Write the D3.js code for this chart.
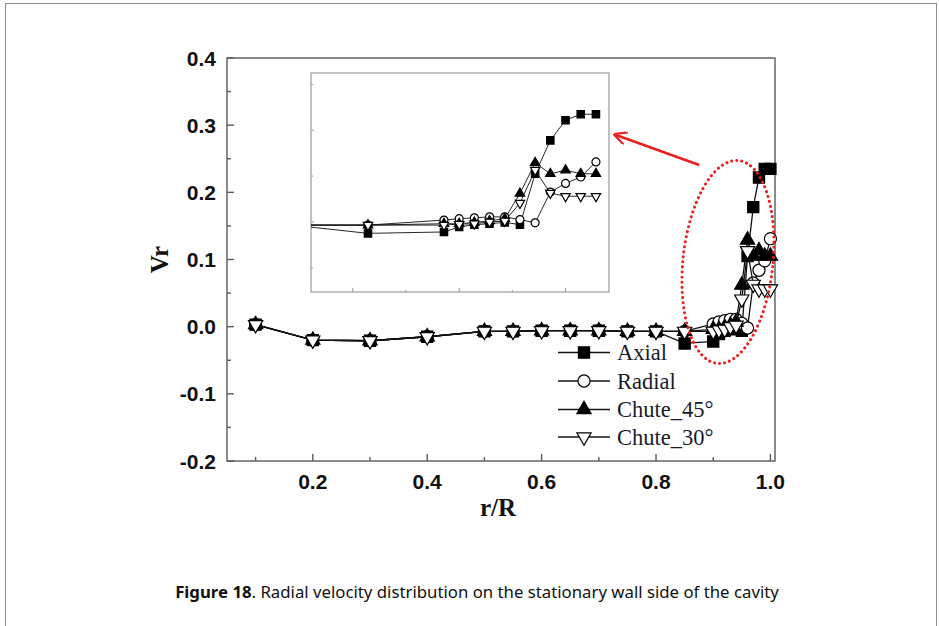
<!DOCTYPE html>
<html>
<head>
<meta charset="utf-8">
<script src="https://cdn.jsdelivr.net/npm/d3@7/dist/d3.min.js"></script>
<style>
  html, body { margin: 0; padding: 0; background: #fff; }
  svg { display: block; }
</style>
</head>
<body>
<svg id="fig" width="939" height="626"></svg>
<script>
// r/R sample positions shared by every series
const rR = [0.1, 0.2, 0.3, 0.4, 0.5, 0.55, 0.6, 0.65, 0.7, 0.75, 0.8, 0.85,
            0.9, 0.91, 0.92, 0.93, 0.94, 0.95, 0.96, 0.97, 0.98, 0.99, 1.0];

// Radial velocity Vr for each geometry
const axial   = [0.003, -0.020, -0.021, -0.015, -0.007, -0.007, -0.006, -0.006, -0.006, -0.007, -0.007, -0.025,
                 -0.022, -0.011, -0.006, -0.004, -0.001, -0.006, 0.105, 0.178, 0.222, 0.235, 0.235];
const radial  = [0.003, -0.020, -0.021, -0.015, -0.007, -0.007, -0.006, -0.006, -0.006, -0.007, -0.007, -0.007,
                 0.004, 0.007, 0.009, 0.011, 0.011, 0.005, -0.002, 0.065, 0.084, 0.098, 0.131];
const chute45 = [0.003, -0.020, -0.021, -0.015, -0.007, -0.007, -0.006, -0.006, -0.006, -0.007, -0.007, -0.007,
                 -0.004, -0.004, -0.001, 0.002, 0.007, 0.062, 0.129, 0.105, 0.113, 0.105, 0.105];
const chute30 = [0.003, -0.020, -0.021, -0.015, -0.007, -0.007, -0.006, -0.006, -0.006, -0.007, -0.007, -0.007,
                 -0.007, -0.005, -0.004, 0.000, 0.002, 0.041, 0.113, 0.063, 0.056, 0.056, 0.056];

const seriesNames = ["Axial", "Radial", "Chute_45°", "Chute_30°"];

// Axis ticks
const xMajorTicks = [0.2, 0.4, 0.6, 0.8, 1.0];
const xMinorTicks = [0.1, 0.3, 0.5, 0.7, 0.9];
const yMajorTicks = [-0.2, -0.1, 0.0, 0.1, 0.2, 0.3, 0.4];
const yMinorTicks = [-0.15, -0.05, 0.05, 0.15, 0.25, 0.35];
const insetXTicks = [0.84, 0.875, 0.91, 0.945, 0.98];
const insetYTicks = [-0.1, 0.0, 0.1, 0.2, 0.3];

const captionBold = "Figure 18";
const captionRest = ". Radial velocity distribution on the stationary wall side of the cavity";

const svg = d3.select("#fig");

// outer page frame
svg.append("rect").attr("x", 5.5).attr("y", 3.5).attr("width", 931).attr("height", 660)
  .attr("fill", "none").attr("stroke", "#8a8a8a").attr("stroke-width", 1);

const plot = { left: 227, right: 775, top: 58, bottom: 461 };
const x = d3.scaleLinear().domain([0.05, 1.008]).range([plot.left, plot.right]);
const y = d3.scaleLinear().domain([-0.2, 0.4]).range([plot.bottom, plot.top]);

const axisColor = "#5a5a5a";

// plot frame
svg.append("rect").attr("x", plot.left).attr("y", plot.top)
  .attr("width", plot.right - plot.left).attr("height", plot.bottom - plot.top)
  .attr("fill", "none").attr("stroke", axisColor).attr("stroke-width", 1.4);

// inward ticks on left and bottom
const ticks = svg.append("g").attr("stroke", axisColor).attr("stroke-width", 1.4);
xMajorTicks.forEach(v => ticks.append("line").attr("x1", x(v)).attr("x2", x(v))
  .attr("y1", plot.bottom).attr("y2", plot.bottom - 7));
xMinorTicks.forEach(v => ticks.append("line").attr("x1", x(v)).attr("x2", x(v))
  .attr("y1", plot.bottom).attr("y2", plot.bottom - 4));
yMajorTicks.forEach(v => ticks.append("line").attr("y1", y(v)).attr("y2", y(v))
  .attr("x1", plot.left).attr("x2", plot.left + 7));
yMinorTicks.forEach(v => ticks.append("line").attr("y1", y(v)).attr("y2", y(v))
  .attr("x1", plot.left).attr("x2", plot.left + 4));

// tick labels use a plain hyphen for negatives
const fmt = v => d3.format(".1f")(v).replace("\u2212", "-");
svg.append("g").selectAll("text").data(xMajorTicks).join("text")
  .attr("x", d => x(d)).attr("y", plot.bottom + 28)
  .attr("text-anchor", "middle")
  .attr("font-family", "Liberation Sans, Arial, sans-serif").attr("font-weight", "bold")
  .attr("font-size", 21).attr("fill", "#111").text(fmt);
svg.append("g").selectAll("text").data(yMajorTicks).join("text")
  .attr("x", plot.left - 11).attr("y", d => y(d) + 7.5)
  .attr("text-anchor", "end")
  .attr("font-family", "Liberation Sans, Arial, sans-serif").attr("font-weight", "bold")
  .attr("font-size", 21).attr("fill", "#111").text(fmt);

// axis titles
svg.append("text").attr("x", (plot.left + plot.right) / 2 - 3).attr("y", 516)
  .attr("text-anchor", "middle").attr("font-family", "Liberation Serif, Times New Roman, serif")
  .attr("font-weight", "bold").attr("font-size", 25).attr("fill", "#111").text("r/R");
svg.append("text").attr("transform", `translate(168, ${y(0.1)}) rotate(-90)`)
  .attr("text-anchor", "middle").attr("font-family", "Liberation Serif, Times New Roman, serif")
  .attr("font-weight", "bold").attr("font-size", 25).attr("fill", "#111").text("Vr");

// marker shapes
function markerPath(kind, scale) {
  const s = scale;
  if (kind === 0) return d3.symbol(d3.symbolSquare, 125 * s * s)();
  if (kind === 1) return d3.symbol(d3.symbolCircle, 115 * s * s)();
  return d3.symbol(d3.symbolTriangle, 88 * s * s)();
}
const fills = ["#000", "#fff", "#000", "#fff"];
const allSeries = [axial, radial, chute45, chute30];

function drawSeries(g, xs, ys, markerScale, lineWidth) {
  allSeries.forEach((vals, k) => {
    const pts = rR.map((r, i) => [r, vals[i]]);
    g.append("path").datum(pts)
      .attr("d", d3.line().x(d => xs(d[0])).y(d => ys(d[1])))
      .attr("fill", "none").attr("stroke", "#111").attr("stroke-width", lineWidth);
    g.append("g").selectAll("path").data(pts).join("path")
      .attr("d", markerPath(k, markerScale))
      .attr("transform", d => `translate(${xs(d[0])},${ys(d[1])})` + (k === 3 ? " rotate(180)" : ""))
      .attr("fill", fills[k]).attr("stroke", "#000").attr("stroke-width", 1.2);
  });
}

drawSeries(svg.append("g"), x, y, 1, 1.3);

// legend
const legend = svg.append("g");
const legendRows = [352.5, 381, 409.5, 437];
seriesNames.forEach((name, k) => {
  const row = legend.append("g").attr("transform", `translate(0, ${legendRows[k]})`);
  row.append("line").attr("x1", 558).attr("x2", 610).attr("y1", 0).attr("y2", 0)
    .attr("stroke", "#111").attr("stroke-width", 1.3);
  row.append("path").attr("d", markerPath(k, 1))
    .attr("transform", `translate(584,0)` + (k === 3 ? " rotate(180)" : ""))
    .attr("fill", fills[k]).attr("stroke", "#000").attr("stroke-width", 1.2);
  row.append("text").attr("x", 617).attr("y", 7.5)
    .attr("font-family", "Liberation Serif, Times New Roman, serif")
    .attr("font-size", 22.5).attr("fill", "#1a1a2a").text(name);
});

// zoomed inset of the near-wall region
const inset = { left: 311, right: 609, top: 73, bottom: 292 };
const ix = d3.scaleLinear().domain([0.8125, 1.0086]).range([inset.left, inset.right]);
const iy = d3.scaleLinear().domain([-0.153, 0.325]).range([inset.bottom, inset.top]);

svg.append("rect").attr("x", inset.left).attr("y", inset.top)
  .attr("width", inset.right - inset.left).attr("height", inset.bottom - inset.top)
  .attr("fill", "#fff").attr("stroke", "#9a9a9a").attr("stroke-width", 1.2);

svg.append("clipPath").attr("id", "insetClip").append("rect")
  .attr("x", inset.left).attr("y", inset.top)
  .attr("width", inset.right - inset.left).attr("height", inset.bottom - inset.top);

const iticks = svg.append("g").attr("stroke", "#9a9a9a").attr("stroke-width", 1);
insetXTicks.forEach((v, i) => iticks.append("line").attr("x1", ix(v)).attr("x2", ix(v))
  .attr("y1", inset.bottom).attr("y2", inset.bottom - (i % 2 === 0 ? 4 : 2)));
insetYTicks.forEach((v, i) => iticks.append("line").attr("y1", iy(v)).attr("y2", iy(v))
  .attr("x1", inset.left).attr("x2", inset.left + (i % 2 === 0 ? 2 : 3)));

drawSeries(svg.append("g").attr("clip-path", "url(#insetClip)"), ix, iy, 0.66, 0.9);

// red call-out: dotted ellipse round the near-wall points and an arrow to the inset
const defs = svg.append("defs");
defs.append("marker").attr("id", "arrowHead").attr("viewBox", "0 0 10 10")
  .attr("refX", 8).attr("refY", 5).attr("markerWidth", 5).attr("markerHeight", 5)
  .attr("orient", "auto-start-reverse").attr("markerUnits", "strokeWidth")
  .append("path").attr("d", "M0,0 L10,5 L0,10").attr("fill", "none")
  .attr("stroke", "#e8211c").attr("stroke-width", 1.6);

const ellC = [x(0.9257), y(0.0963)];
svg.append("ellipse").attr("cx", 0).attr("cy", 0).attr("rx", 45).attr("ry", 102)
  .attr("transform", `translate(${ellC[0]},${ellC[1]}) rotate(6)`)
  .attr("fill", "none").attr("stroke", "#e8211c").attr("stroke-width", 3)
  .attr("stroke-dasharray", "0.1 5").attr("stroke-linecap", "round");

svg.append("line")
  .attr("x1", x(0.8755)).attr("y1", y(0.2407))
  .attr("x2", inset.right + 7).attr("y2", y(0.2855))
  .attr("stroke", "#e8211c").attr("stroke-width", 2.6)
  .attr("marker-end", "url(#arrowHead)");

// caption, sized to span its column
const cap = svg.append("text").attr("x", 477).attr("y", 598).attr("text-anchor", "middle")
  .attr("font-family", "Noto Sans, Open Sans, sans-serif").attr("font-size", 15).attr("fill", "#111");
cap.append("tspan").attr("font-weight", "bold").text(captionBold);
cap.append("tspan").text(captionRest);
const capLen = cap.node().getComputedTextLength();
cap.attr("font-size", 15 * 604 / capLen);
</script>
</body>
</html>
